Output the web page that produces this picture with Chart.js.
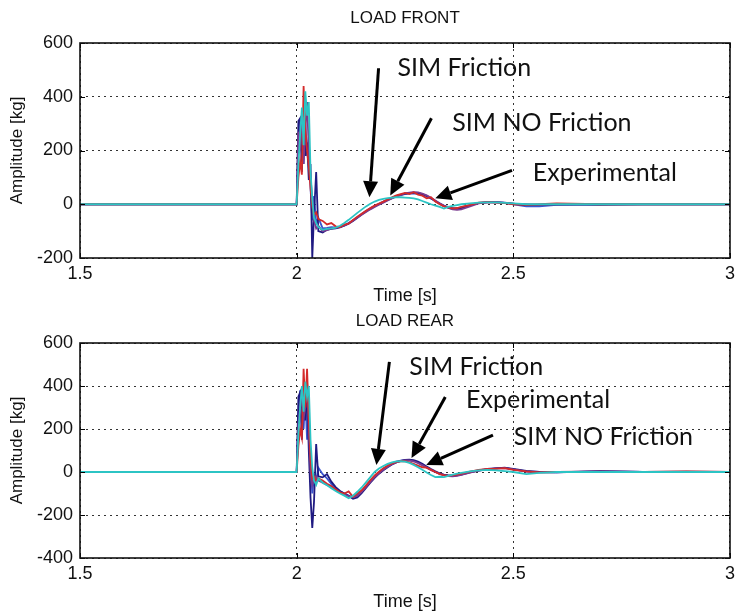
<!DOCTYPE html>
<html><head><meta charset="utf-8">
<script src="https://cdn.jsdelivr.net/npm/chart.js@4.4.1/dist/chart.umd.min.js"></script>
<style>
html,body{margin:0;padding:0;background:#fff;}
#wrap{position:relative;width:740px;height:614px;overflow:hidden;}
.c{position:absolute;left:0;width:740px;height:307px;}
</style></head><body>
<div id="wrap">
<div class="c" style="top:0"><canvas id="front" width="740" height="307"></canvas></div>
<div class="c" style="top:307px"><canvas id="rear" width="740" height="307"></canvas></div>
</div>
<script>
// ---- data (time in s, amplitude in kg) ----
const time = [1.5,1.75,1.99,2.0,2.004,2.008,2.012,2.016,2.02,2.024,2.028,2.032,2.036,2.04,2.045,2.05,
  2.06,2.07,2.08,2.09,2.10,2.11,2.12,2.13,2.14,2.15,2.16,2.17,2.18,2.19,2.20,2.21,2.22,2.23,2.24,2.25,
  2.26,2.27,2.28,2.29,2.30,2.31,2.32,2.33,2.34,2.35,2.36,2.37,2.38,2.40,2.42,2.44,2.46,2.48,2.50,
  2.53,2.56,2.60,2.70,2.80,2.90,3.00];

const xTicks = [1.5, 2, 2.5, 3];
const xTickLabels = ['1.5', '2', '2.5', '3'];
const frontYTicks = [-200, 0, 200, 400, 600];
const rearYTicks = [-400, -200, 0, 200, 400, 600];

// LOAD FRONT
const frontNavy = [0,0,0,0,310,320,120,300,180,230,90,150,-200,-40,120,-100,
  -105,-95,-92,-90,-86,-80,-72,-62,-50,-38,-27,-17,-8,0,8,16,23,30,35,39,
  42,43,42,38,31,22,12,2,-7,-13,-17,-18,-15,-4,5,8,8,6,2,
  -3,-3,0,-2,0,0,0];
const frontBlue = [0,0,0,0,200,290,260,150,310,180,250,60,-60,30,-70,-50,
  -90,-88,-85,-86,-84,-78,-70,-60,-48,-36,-25,-15,-6,2,10,17,24,30,35,38,
  40,41,40,36,30,21,11,3,-5,-10,-14,-15,-12,-3,4,7,7,5,0,
  -8,-8,-2,0,0,0,0];
const frontPurple = [0,0,0,0,270,200,330,150,280,380,200,100,20,-60,-90,-80,
  -100,-96,-90,-88,-84,-79,-71,-61,-50,-39,-29,-19,-10,-2,6,14,22,29,35,40,
  43,45,44,40,33,24,14,4,-6,-14,-19,-21,-19,-8,3,7,7,5,2,
  0,-2,0,0,0,0,0];
const frontRed = [0,0,0,0,100,160,110,440,280,200,140,60,-10,-40,-30,-55,
  -62,-75,-70,-82,-85,-76,-72,-58,-46,-35,-24,-14,-5,3,10,18,26,33,38,42,
  38,45,36,32,22,26,10,0,-8,-12,-15,-14,-10,-2,6,8,6,4,0,
  -2,0,3,0,0,0,0];
const frontCyan = [0,0,0,0,150,260,360,220,420,330,380,120,20,-50,-70,-85,
  -95,-92,-90,-87,-80,-70,-58,-45,-32,-20,-8,2,10,16,20,23,25,26,26,25,
  24,22,18,12,6,0,-5,-10,-16,-10,-6,-3,0,3,6,7,7,5,3,
  0,0,0,0,0,0,0];

// LOAD REAR
const rearNavy = [0,0,0,0,350,370,150,360,240,380,100,-120,-260,-140,130,-20,
  -25,-10,-45,-70,-88,-100,-112,-125,-118,-98,-74,-50,-27,-8,8,22,35,45,52,56,
  57,55,48,38,26,14,3,-6,-12,-16,-18,-16,-12,-2,6,12,17,20,14,
  5,0,-2,3,0,2,0];
const rearBlue = [0,0,0,0,250,380,300,200,350,150,250,50,-100,-20,-40,20,
  -10,-30,-55,-75,-90,-100,-110,-118,-108,-90,-66,-42,-20,-2,14,28,40,48,53,55,
  54,50,42,32,20,9,0,-8,-14,-17,-17,-14,-10,0,8,14,18,19,12,
  3,0,-2,5,0,0,0];
const rearPurple = [0,0,0,0,220,300,380,250,300,420,200,0,-60,-30,-20,-40,
  -50,-60,-70,-82,-95,-104,-112,-118,-110,-92,-70,-46,-24,-6,10,24,36,45,51,54,
  54,50,42,32,21,10,0,-9,-15,-19,-20,-18,-13,-3,6,12,16,18,12,
  2,-2,0,2,0,0,0];
const rearRed = [0,0,0,0,120,200,160,480,300,480,250,60,-30,-20,-40,-30,
  -40,-55,-65,-80,-95,-100,-90,-115,-100,-85,-62,-38,-16,2,18,30,40,47,50,50,
  45,38,30,22,20,10,0,-10,-15,-18,-15,-12,-8,2,10,14,16,18,10,
  3,-2,0,2,0,3,0];
const rearCyan = [0,0,0,0,180,300,400,280,420,350,400,150,20,-40,-60,-30,
  -50,-62,-75,-88,-100,-110,-122,-110,-92,-72,-48,-24,0,16,28,38,45,49,50,48,
  42,33,22,10,-2,-14,-24,-22,-24,-18,-12,-8,-4,3,8,10,8,4,0,
  -10,-4,0,0,0,0,0];

const seriesColors = {navy:'#1f1a82', blue:'#3a55d0', purple:'#7a3b8f', red:'#d42a2a', cyan:'#2cc4c4'};

// annotation text + arrow anchors in data units (time, kg)
const frontNotes = [
  {text:'SIM Friction',    at:[2.2325, 506], from:[2.189, 506], to:[2.168, 26]},
  {text:'SIM NO Friction', at:[2.359, 301],  from:[2.311, 320], to:[2.216, 33]},
  {text:'Experimental',    at:[2.545, 115],  from:[2.497, 126], to:[2.320, 22]}
];
const rearNotes = [
  {text:'SIM Friction',    at:[2.260, 488], from:[2.214, 512], to:[2.184, 33]},
  {text:'Experimental',    at:[2.391, 335], from:[2.343, 349], to:[2.265, 65]},
  {text:'SIM NO Friction', at:[2.501, 163], from:[2.453, 172], to:[2.299, 33]}
];

// ---- drawing ----
const FONT = "'Liberation Sans', Arial, sans-serif";
const NOTE_FONT = "25px Lato, 'Open Sans', sans-serif";

const matlabPlugin = {
  id: 'matlabBox',
  afterDraw(chart, args, opts) {
    const {ctx, chartArea: a, scales: {x, y}} = chart;
    ctx.save();
    ctx.strokeStyle = '#000';
    ctx.lineWidth = 1;
    ctx.beginPath();
    x.ticks.forEach(t => {
      const px = Math.round(x.getPixelForValue(t.value)) + 0.5;
      ctx.moveTo(px, a.bottom); ctx.lineTo(px, a.bottom - 5);
      ctx.moveTo(px, a.top); ctx.lineTo(px, a.top + 5);
    });
    y.ticks.forEach(t => {
      const py = Math.round(y.getPixelForValue(t.value)) + 0.5;
      ctx.moveTo(a.left, py); ctx.lineTo(a.left + 5, py);
      ctx.moveTo(a.right, py); ctx.lineTo(a.right - 5, py);
    });
    ctx.stroke();
    ctx.lineWidth = 1.6;
    ctx.strokeStyle = '#111';
    ctx.strokeRect(a.left, a.top, a.right - a.left, a.bottom - a.top);
    // title
    ctx.fillStyle = '#111';
    ctx.font = '17px ' + FONT;
    ctx.textAlign = 'center';
    ctx.textBaseline = 'middle';
    ctx.fillText(opts.title, (a.left + a.right) / 2, a.top - opts.titleGap);
    // annotations
    ctx.font = NOTE_FONT;
    ctx.textAlign = 'left';
    (opts.notes || []).forEach(n => {
      const tx = x.getPixelForValue(n.at[0]), ty = y.getPixelForValue(n.at[1]);
      ctx.fillStyle = '#111';
      ctx.fillText(n.text, tx, ty);
      const x1 = x.getPixelForValue(n.from[0]), y1 = y.getPixelForValue(n.from[1]);
      const x2 = x.getPixelForValue(n.to[0]), y2 = y.getPixelForValue(n.to[1]);
      const ang = Math.atan2(y2 - y1, x2 - x1);
      const hl = 16, hw = 7.5;
      const bx = x2 - hl * Math.cos(ang), by = y2 - hl * Math.sin(ang);
      ctx.strokeStyle = '#000';
      ctx.lineWidth = 3;
      ctx.beginPath(); ctx.moveTo(x1, y1); ctx.lineTo(bx, by); ctx.stroke();
      ctx.fillStyle = '#000';
      ctx.beginPath();
      ctx.moveTo(x2, y2);
      ctx.lineTo(bx + hw * Math.sin(ang), by - hw * Math.cos(ang));
      ctx.lineTo(bx - hw * Math.sin(ang), by + hw * Math.cos(ang));
      ctx.closePath(); ctx.fill();
    });
    ctx.restore();
  }
};

function makeChart(id, series, yTicks, title, notes, cfg) {
  // first entry is drawn on top (Chart.js paints datasets last-to-first)
  const datasets = series.map(s => ({
    data: time.map((t, i) => ({x: t, y: s.values[i]})),
    borderColor: s.color, borderWidth: 1.8, pointRadius: 0, tension: 0, fill: false
  }));
  return new Chart(document.getElementById(id), {
    type: 'line',
    data: {datasets},
    options: {
      responsive: false, animation: false, events: [],
      layout: {padding: {top: cfg.padTop, right: 7, left: 0, bottom: 0}},
      plugins: {
        legend: {display: false}, tooltip: {enabled: false},
        matlabBox: {title, notes, titleGap: cfg.titleGap}
      },
      scales: {
        x: {
          type: 'linear', min: xTicks[0], max: xTicks[xTicks.length - 1],
          afterBuildTicks: s => { s.ticks = xTicks.map(v => ({value: v})); },
          afterFit: s => { s.height = cfg.xHeight; },
          ticks: {
            callback: v => xTickLabels[xTicks.indexOf(v)],
            font: {family: FONT, size: 18}, color: '#111', padding: 5, maxRotation: 0, autoSkip: false
          },
          grid: {color: '#333', lineWidth: 1, drawTicks: false},
          border: {display: false, dash: [2, 4]},
          title: {display: true, text: 'Time [s]', color: '#111', font: {family: FONT, size: 18},
                  padding: {top: 0, bottom: cfg.xTitlePad}}
        },
        y: {
          type: 'linear', min: yTicks[0], max: yTicks[yTicks.length - 1],
          afterBuildTicks: s => { s.ticks = yTicks.map(v => ({value: v})); },
          afterFit: s => { s.width = 80; },
          ticks: {
            callback: v => String(v),
            font: {family: FONT, size: 18}, color: '#111', padding: 7, autoSkip: false
          },
          grid: {color: '#333', lineWidth: 1, drawTicks: false},
          border: {display: false, dash: [2, 4]},
          title: {display: true, text: 'Amplitude [kg]', color: '#111', font: {family: FONT, size: 17},
                  padding: {top: 7, bottom: 0}}
        }
      }
    },
    plugins: [matlabPlugin]
  });
}

makeChart('front', [
  {values: frontCyan, color: seriesColors.cyan},
  {values: frontRed, color: seriesColors.red},
  {values: frontPurple, color: seriesColors.purple},
  {values: frontNavy, color: seriesColors.navy},
  {values: frontBlue, color: seriesColors.blue}
], frontYTicks, 'LOAD FRONT', frontNotes, {padTop: 43, xHeight: 49, xTitlePad: 0, titleGap: 25});

makeChart('rear', [
  {values: rearCyan, color: seriesColors.cyan},
  {values: rearRed, color: seriesColors.red},
  {values: rearPurple, color: seriesColors.purple},
  {values: rearNavy, color: seriesColors.navy},
  {values: rearBlue, color: seriesColors.blue}
], rearYTicks, 'LOAD REAR', rearNotes, {padTop: 36, xHeight: 56, xTitlePad: 1, titleGap: 22});
</script>
</body></html>
